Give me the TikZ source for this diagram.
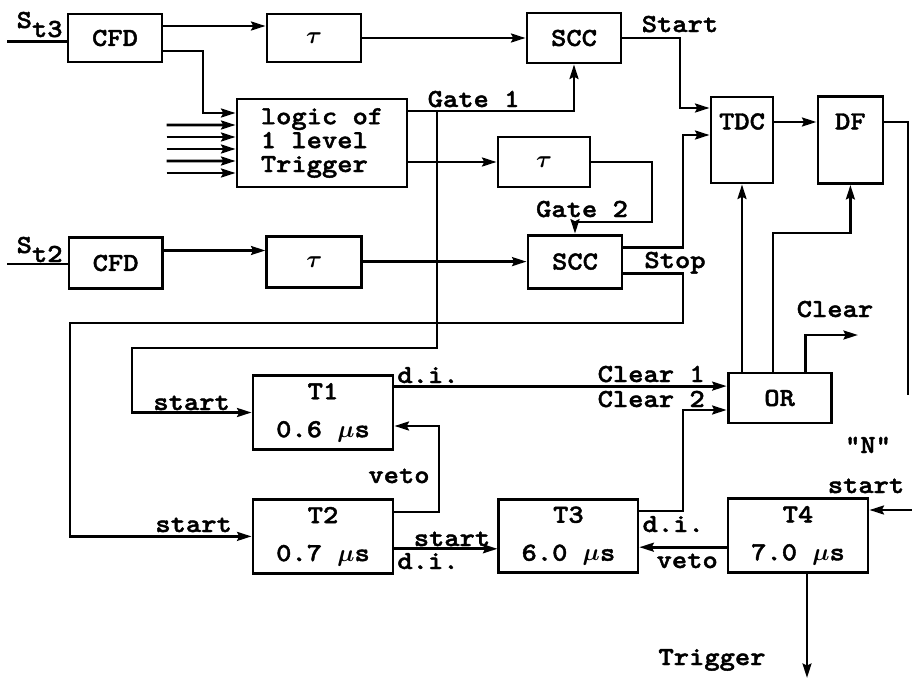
\documentclass[tikz,border=0pt]{standalone}
\usepackage{fontspec}
\usetikzlibrary{calc,arrows.meta}
\newfontfamily\plotfont{lmmonolt10-bold.otf}[FakeStretch=1.12, FakeBold=1.6]

\begin{document}
\begin{tikzpicture}[
  every node/.style={font=\plotfont\fontsize{18.5}{20}\selectfont\boldmath},
  blk/.style={draw, line width=2pt, inner sep=0pt},
  topbox/.style={text height=0.4cm, text depth=0.93cm},
  tbox/.style={blk, minimum width=3.5cm, minimum height=1.84cm, align=center},
  txt/.style={inner sep=0pt, anchor=base},
  wire/.style={line width=2pt},
  arr/.style={line width=2pt, -{Stealth[length=0.36cm,width=0.22cm,inset=0.05cm]}}]

\useasboundingbox (0,0) rectangle (22.8,-17);

% ============================
% Upper row: CFD, tau, SCC
% ============================
\node[blk, minimum width=2.35cm, minimum height=1.2cm] (cfdA) at (2.875,-0.95) {CFD};
\node[blk, minimum width=2.35cm, minimum height=1.2cm] (tauA) at (7.85,-0.95) {$\tau$};
\node[blk, minimum width=2.35cm, minimum height=1.25cm] (sccA) at (14.35,-0.95) {SCC};

\node[blk, minimum width=4.25cm, minimum height=2.2cm, align=left,
      font=\plotfont\fontsize{18.5}{17}\selectfont] (logic) at (8.05,-3.575)
  {logic of\\1 level\\Trigger};
\node[blk, minimum width=2.3cm, minimum height=1.25cm] (tauB) at (13.6,-4.05) {$\tau$};

\node[blk, topbox, minimum width=1.55cm, minimum height=2.15cm] (tdc) at (18.55,-3.5) {TDC};
\node[blk, topbox, minimum width=1.625cm, minimum height=2.175cm] (df) at (21.26,-3.5) {DF};

% ============================
% Lower row: CFD, tau, SCC
% ============================
\node[blk, minimum width=2.33cm, minimum height=1.275cm] (cfdB) at (2.89,-6.575) {CFD};
\node[blk, minimum width=2.375cm, minimum height=1.275cm] (tauC) at (7.86,-6.54) {$\tau$};
\node[blk, minimum width=2.35cm, minimum height=1.325cm] (sccB) at (14.375,-6.54) {SCC};

% ============================
% Timers and OR
% ============================
\node[blk, minimum width=2.575cm, minimum height=1.25cm] (orB) at (19.49,-9.95) {OR};

\node[tbox] (tA) at (8.075,-10.3125) {T1\\[7pt]0.6 $\mu$s};
\node[tbox] (tB) at (8.075,-13.41) {T2\\[7pt]0.7 $\mu$s};
\node[tbox, minimum width=3.475cm] (tC) at (14.21,-13.4) {T3\\[7pt]6.0 $\mu$s};
\node[tbox] (tD) at (19.95,-13.39) {T4\\[7pt]7.0 $\mu$s};

% ============================
% Bend points
% ============================
\coordinate (inA) at (0.175,-1.03);
\coordinate (inB) at (0.175,-6.6);
\coordinate (kA) at (5.075,-2.825);
\coordinate (gj) at (10.925,-2.775);
\coordinate (kB) at (3.3,-8.7);
\coordinate (kC) at (16.3,-5.55);
\coordinate (kD) at (17.075,-3.375);
\coordinate (kE) at (17.075,-8.075);
\coordinate (kF) at (1.75,-8.075);
\coordinate (kG) at (17.0,-2.7);
\coordinate (kH) at (22.7,-9.875);
\coordinate (kI) at (19.325,-5.825);
\coordinate (clr) at (21.45,-8.375);
\coordinate (kJ) at (17.075,-10.25);
\coordinate (kK) at (10.975,-10.65);
\coordinate (nIn) at (22.8,-12.75);
\coordinate (trg) at (20.175,-16.95);

% ============================
% Top connectors
% ============================
\draw[wire] (inA) -- (inA -| cfdA.west);
\draw[arr] ([yshift=0.3cm]cfdA.east) -- ([yshift=0.3cm]cfdA.east -| tauA.west);
\draw[arr] ([yshift=-0.325cm]cfdA.east) -| (kA) -- ([yshift=0.75cm]logic.west);
\foreach \dy in {0.45,0.15,-0.15,-0.45,-0.75}{
  \draw[arr] ([shift={(-1.725,\dy)}]logic.west) -- ([yshift=\dy cm]logic.west);
}
\draw[arr] (tauA) -- (sccA);
\draw[arr] ([yshift=0.8cm]logic.east) -| (sccA.south);
\draw[arr] ([yshift=-0.475cm]logic.east) -- (tauB.west);
\draw[arr] (tauB.east) -| (kC) -| (sccB.north);
\draw[arr] (sccA.east) -| (kG) -- (kG -| tdc.west);
\draw[arr] ([yshift=0.45cm]tdc.east) -- ([yshift=0.45cm]df.west);
\draw[wire] ([yshift=0.45cm]df.east) -| (kH);

% ============================
% Lower connectors
% ============================
\draw[wire] (inB) -- (inB -| cfdB.west);
\draw[arr] ([yshift=0.3125cm]cfdB.east) -- ([yshift=0.3125cm]cfdB.east -| tauC.west);
\draw[arr] (tauC) -- (sccB);
\draw[arr] ([yshift=0.35cm]sccB.east) -| (kD) -- (kD -| tdc.west);
\draw[arr] ([yshift=-0.3cm]sccB.east) -| (kE) -- (kF) |- (tB.west);
\draw[arr] (gj) |- (kB) |- (tA.west);

% ============================
% OR outputs
% ============================
\draw[arr] (tdc.south |- orB.north) -- (tdc.south);
\draw[arr] (kI |- orB.north) -- (kI) -| (df.south);
\draw[arr] ([xshift=0.64cm]orB.north) |- (clr);

% ============================
% Timer connectors
% ============================
\draw[arr] ([yshift=0.66cm]tA.east) -- ([yshift=0.66cm]tA.east -| orB.west);
\draw[arr] ([yshift=0.625cm]tC.east) -| (kJ) -- (kJ -| orB.west);
\draw[arr] ([yshift=0.61cm]tB.east) -| (kK) -- (kK -| tA.east);
\draw[arr] ([yshift=-0.31cm]tB.east) -- ([yshift=-0.31cm]tB.east -| tC.west);
\draw[arr] ([yshift=-0.29cm]tD.west) -- ([yshift=-0.29cm]tD.west -| tC.east);
\draw[arr] (nIn) -- (nIn -| tD.east);
\draw[arr] (trg |- tD.south) -- (trg);

% ============================
% Labels
% ============================
\node[txt, anchor=base west] (lSa) at (0.41,-0.7) {S\raisebox{-0.225cm}{t3}};
\node[txt, anchor=base west] (lSb) at (0.41,-6.325) {S\raisebox{-0.225cm}{t2}};
\node[txt] (lStart) at (17.0,-0.8) {Start};
\node[txt] (lGa) at (11.84,-2.675) {Gate 1};
\node[txt] (lGb) at (14.55,-5.425) {Gate 2};
\node[txt] (lStop) at (16.875,-6.7) {Stop};
\node[txt] (lClr) at (20.875,-7.925) {Clear};
\node[txt] (lDiA) at (10.7,-9.575) {d.i.};
\node[txt] (lClrA) at (16.28,-9.55) {Clear 1};
\node[txt] (lClrB) at (16.28,-10.175) {Clear 2};
\node[txt] (lStA) at (4.79,-10.25) {start};
\node[txt] (lVeA) at (9.975,-12.075) {veto};
\node[txt] (lStB) at (4.84,-13.3) {start};
\node[txt] (lStC) at (11.3,-13.65) {start};
\node[txt] (lDiB) at (10.7,-14.225) {d.i.};
\node[txt] (lDiC) at (16.83,-13.3) {d.i.};
\node[txt] (lVeB) at (17.18,-14.2) {veto};
\node[txt] (lN) at (21.7,-11.325) {“N”};
\node[txt] (lStD) at (21.65,-12.325) {start};
\node[txt] (lTrg) at (17.8,-16.625) {Trigger};

\end{tikzpicture}
\end{document}
